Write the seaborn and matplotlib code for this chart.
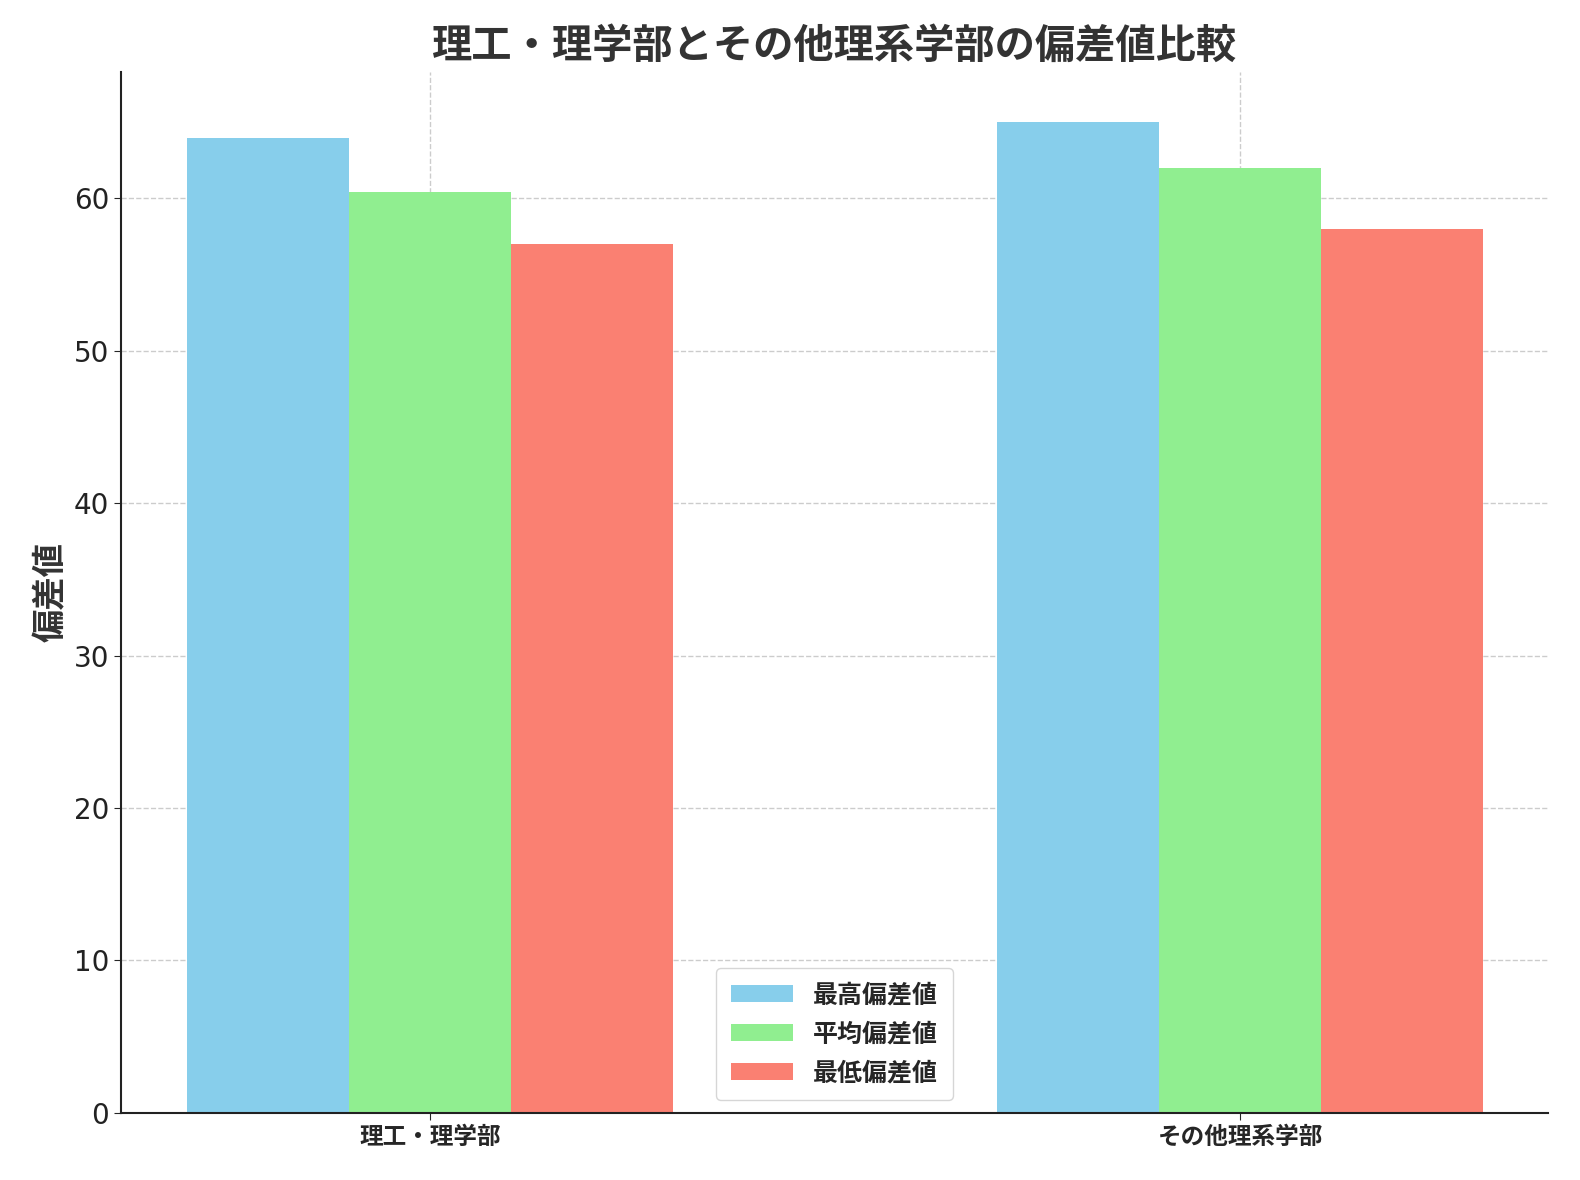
import matplotlib
matplotlib.use("Agg")
import matplotlib.pyplot as plt
import seaborn as sns
import pandas as pd

categories = ["理工・理学部", "その他理系学部"]
series = ["最高偏差値", "平均偏差値", "最低偏差値"]
max_vals = [64, 65]
avg_vals = [60.4, 62]
min_vals = [57, 58]
colors = ["skyblue", "lightgreen", "salmon"]

sns.set_style("white")
plt.rcParams['font.family'] = ['Noto Sans CJK JP', 'DejaVu Sans']

rows = []
for s, vals in zip(series, [max_vals, avg_vals, min_vals]):
    for c, v in zip(categories, vals):
        rows.append({"cat": c, "series": s, "val": v})
df = pd.DataFrame(rows)

fig = plt.figure(figsize=(15.8, 11.8), dpi=100)
ax = fig.add_axes([0.0766, 0.057, 0.9032, 0.882])
sns.barplot(data=df, x="cat", y="val", hue="series", palette=colors,
            width=0.6, gap=0, ax=ax, saturation=1, linewidth=0)
ax.set_xlim(-0.381, 1.38)
ax.set_ylim(0, 68.3)
ax.grid(True, linestyle="--", color="#cccccc", linewidth=1)
ax.set_axisbelow(True)
for s in ["top", "right"]:
    ax.spines[s].set_visible(False)
for s in ["left", "bottom"]:
    ax.spines[s].set_linewidth(1.5)
    ax.spines[s].set_color("#222222")
ax.set_xlabel("")
ax.set_ylabel("偏差値", fontsize=24, fontweight="bold", color="#333333")
ax.set_title("理工・理学部とその他理系学部の偏差値比較", fontsize=29, fontweight="bold", color="#333333", pad=10)
ax.tick_params(axis="y", labelsize=20, left=True, length=5)
ax.tick_params(axis="x", labelsize=17, bottom=True, length=5)
for t in ax.get_yticklabels():
    t.set_family(['DejaVu Sans'])
    t.set_color("#222222")
for t in ax.get_xticklabels():
    t.set_fontweight("bold")
leg = ax.legend(loc="lower center", prop={"weight": "bold", "size": 18},
                handlelength=2.5, borderpad=0.6, labelspacing=0.6)
fig.savefig("out.png", dpi=100)
